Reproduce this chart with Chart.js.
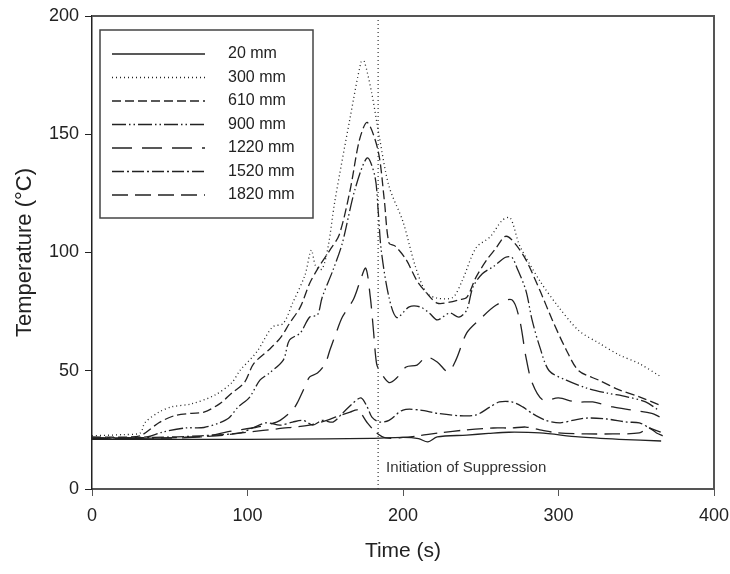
<!DOCTYPE html>
<html>
<head>
<meta charset="utf-8">
<script src="https://cdn.jsdelivr.net/npm/chart.js@4"></script>
<style>
  html, body { margin: 0; padding: 0; background: #fff; }
</style>
</head>
<body>
<canvas id="grafico" width="730" height="574"></canvas>
<script>
// dados (tempo em s, temperatura em °C)
const rotulos = ['20 mm', '300 mm', '610 mm', '900 mm', '1220 mm', '1520 mm', '1820 mm'];
const tracos = [[], [1, 3], [9, 4], [14, 3, 1.5, 3, 1.5, 3], [20, 10], [12, 3, 2, 3], [16, 7]];

const t20 = [0, 50, 100, 150, 180, 200, 210, 216, 222, 241, 255, 268, 288, 313, 339, 366];
const T20 = [21, 21, 21, 21.2, 21.4, 21.8, 21.3, 19.9, 22, 22.8, 23.5, 24, 23.7, 22, 21, 20.3];

const t300 = [0, 20, 31, 34, 43, 51, 64, 79, 90, 95, 106, 116, 123, 129, 137, 141, 144, 148, 152, 156, 166, 173, 175, 180, 185, 191, 200, 208, 215, 222, 232, 238, 247, 256, 264, 269, 275, 288, 300, 313, 326, 339, 352, 366];
const T300 = [22.5, 23, 23.7, 28, 32.5, 34.7, 36, 39.7, 45, 50, 58, 68.5, 70, 78.6, 90.5, 101, 94, 93, 103, 121, 157, 180.5, 181, 167, 148, 128, 113, 94, 83, 80.7, 81, 88, 102, 106.6, 113.7, 114.6, 103, 88, 77, 67, 61.7, 56.7, 53, 47.4];

const t610 = [0, 25, 32, 43, 53, 64, 72, 82, 90, 98, 104, 114, 121, 127, 134, 140, 146, 153, 159, 166, 172, 177, 184, 188, 191, 195, 202, 209, 215, 222, 230, 236, 241, 247, 254, 260, 265, 268, 273, 279, 288, 296, 305, 313, 326, 339, 352, 365];
const T610 = [22, 22, 22.8, 28, 31, 32, 32.5, 36, 40.6, 45, 53, 59, 63.8, 70, 77, 87, 94, 101, 107.5, 126.4, 147.6, 155, 143, 122, 104, 102.7, 97, 88, 83, 78.6, 79, 80, 81, 89.6, 97, 102, 106.6, 106.5, 103, 97, 84, 71.5, 58.8, 50, 46, 41.9, 39, 35.5];

const t900 = [0, 35, 45, 60, 72, 82, 88, 94, 101, 108, 114, 123, 127, 134, 140, 145, 148, 155, 161, 169, 177, 182, 184, 186, 191, 196, 204, 211, 217, 222, 230, 236, 241, 245, 251, 258, 266, 270, 273, 279, 283, 288, 294, 305, 318, 331, 344, 356, 364];
const T900 = [21.5, 22, 24, 25.8, 26, 28, 30, 34.7, 38.5, 46, 49, 54.5, 63, 66, 72.7, 73.6, 81, 92.6, 104, 126.4, 140, 132, 118, 101, 81, 72.5, 77, 77, 74.4, 71.5, 74.4, 72.7, 75.7, 85.4, 91, 94, 98, 98, 94, 84, 71.5, 60, 50, 46, 42.7, 40.6, 39, 36.8, 33.5];

const t1220 = [0, 40, 70, 90, 105, 115, 121, 129, 132, 136, 140, 145, 150, 153, 157, 161, 168, 172, 176, 179, 181, 183, 185, 191, 196, 202, 209, 215, 222, 229, 234, 241, 249, 260, 270, 275, 279, 283, 290, 300, 311, 322, 335, 347, 360, 365];
const T1220 = [21.5, 21.5, 22, 24.5, 26, 27.5, 29, 33.4, 36.4, 42, 47.4, 49, 53, 58.8, 66, 72.7, 80, 87, 93.4, 81, 67, 53, 50, 45, 47, 51.6, 52.4, 55.8, 53.7, 49.5, 54.5, 66, 71.5, 77.8, 80, 71.5, 56, 45, 37.6, 38.5, 36.8, 36.8, 34.7, 33.4, 32, 30.5];

const t1520 = [0, 40, 70, 95, 104, 112, 121, 129, 136, 142, 148, 155, 161, 168, 173, 177, 180, 185, 191, 200, 211, 222, 236, 247, 256, 262, 270, 277, 283, 292, 301, 309, 318, 331, 344, 352, 358, 366];
const T1520 = [21.5, 21.8, 22.5, 23.7, 26, 28, 27, 28.3, 29, 27, 29, 28.3, 32, 36.4, 38.5, 34.7, 30.4, 28.3, 29, 33.4, 33.4, 32, 31, 31.3, 34.7, 36.8, 36.8, 34.7, 32, 29, 28, 29, 30, 29.6, 28.3, 28, 26, 24];

const t1820 = [0, 40, 80, 100, 120, 140, 151, 159, 166, 171, 177, 183, 189, 200, 210, 223, 241, 258, 270, 279, 288, 300, 318, 335, 352, 358, 363, 367];
const T1820 = [21.3, 21.5, 22.5, 24, 25.5, 27, 29, 31, 32.5, 33.4, 28, 23.7, 21.6, 21.8, 22.5, 23.7, 25, 25.8, 25.8, 26.2, 25, 23.7, 23.3, 23.3, 23.7, 25.8, 23.7, 22.5];

const tempos = [t20, t300, t610, t900, t1220, t1520, t1820];
const temps = [T20, T300, T610, T900, T1220, T1520, T1820];

const tSupressao = 184;
const textoSupressao = 'Initiation of Suppression';

const fonte = "'Liberation Sans', Arial, sans-serif";
const corLinha = '#222';
const corEixo = '#555';

const datasets = rotulos.map((r, i) => ({
    label: r,
    data: tempos[i].map((t, k) => ({ x: t, y: temps[i][k] })),
    borderColor: corLinha,
    borderWidth: 1.3,
    borderDash: tracos[i],
    pointRadius: 0,
    tension: 0.3,
    fill: false
}));

// linha vertical da supressão
datasets.push({
    label: 'supressao',
    data: [{ x: tSupressao, y: 0 }, { x: tSupressao, y: 200 }],
    borderColor: '#333',
    borderWidth: 1.2,
    borderDash: [1, 3],
    pointRadius: 0
});

// moldura, legenda e texto dentro do gráfico
const extras = {
    id: 'extras',
    afterDatasetsDraw(chart) {
        const { ctx, chartArea: a, scales } = chart;
        ctx.save();
        ctx.strokeStyle = corEixo;
        ctx.lineWidth = 2;
        ctx.beginPath();
        ctx.moveTo(a.left, a.top);
        ctx.lineTo(a.right, a.top);
        ctx.lineTo(a.right, a.bottom);
        ctx.stroke();

        // legenda
        const bx = 100, by = 30, bw = 213, bh = 188;
        ctx.fillStyle = '#fff';
        ctx.fillRect(bx, by, bw, bh);
        ctx.strokeStyle = '#444';
        ctx.lineWidth = 1.5;
        ctx.strokeRect(bx, by, bw, bh);
        ctx.font = '16px ' + fonte;
        ctx.textBaseline = 'middle';
        ctx.textAlign = 'left';
        rotulos.forEach((r, i) => {
            const y = by + 24 + i * 23.5;
            ctx.strokeStyle = corLinha;
            ctx.lineWidth = 1.3;
            ctx.setLineDash(tracos[i]);
            ctx.beginPath();
            ctx.moveTo(112, y);
            ctx.lineTo(205, y);
            ctx.stroke();
            ctx.setLineDash([]);
            ctx.fillStyle = '#222';
            ctx.fillText(r, 228, y);
        });

        ctx.font = '15px ' + fonte;
        ctx.fillStyle = '#333';
        ctx.fillText(textoSupressao, scales.x.getPixelForValue(tSupressao) + 8, scales.y.getPixelForValue(9));
        ctx.restore();
    }
};

new Chart(document.getElementById('grafico'), {
    type: 'line',
    data: { datasets },
    options: {
        responsive: false,
        animation: false,
        layout: { padding: { top: 16, right: 16, left: 0, bottom: 0 } },
        plugins: { legend: { display: false }, tooltip: { enabled: false } },
        scales: {
            x: {
                type: 'linear', min: 0, max: 400,
                afterFit: s => { s.height = 85; s.paddingRight = 0; s.paddingLeft = 0; },
                ticks: { stepSize: 100, color: '#222', font: { family: fonte, size: 18 }, padding: 9 },
                grid: { drawOnChartArea: false, drawTicks: true, tickLength: 7, color: corEixo },
                border: { color: corEixo, width: 2 },
                title: { display: true, text: 'Time (s)', color: '#222', font: { family: fonte, size: 21 }, padding: { top: 0, bottom: 10 } }
            },
            y: {
                min: 0, max: 200,
                afterFit: s => { s.width = 92; s.paddingTop = 0; s.paddingBottom = 0; },
                ticks: { stepSize: 50, color: '#222', font: { family: fonte, size: 18 }, padding: 6 },
                grid: { drawOnChartArea: false, drawTicks: true, tickLength: 7, color: '#222' },
                border: { color: '#222', width: 1.5 },
                title: { display: true, text: 'Temperature (°C)', color: '#222', font: { family: fonte, size: 22 }, padding: { top: 12, bottom: 0 } }
            }
        }
    },
    plugins: [extras]
});
</script>
</body>
</html>
